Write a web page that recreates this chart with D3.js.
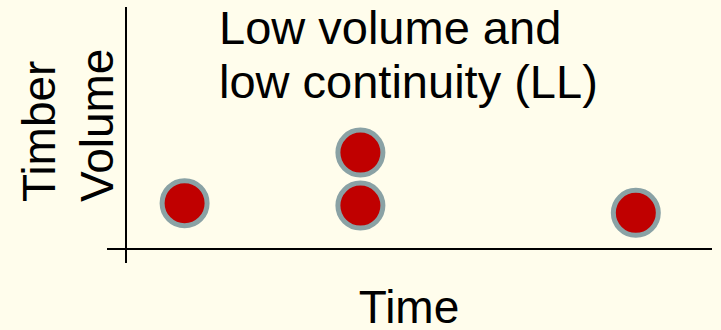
<!DOCTYPE html>
<html>
<head>
<meta charset="utf-8">
<script src="https://cdn.jsdelivr.net/npm/d3@7"></script>
<style>
    html, body {
        margin: 0;
        padding: 0;
        background: #fffdec;
    }
    svg text {
        font-family: "Liberation Sans", Arial, sans-serif;
        font-size: 46px;
        fill: #000;
    }
    svg text.title {
        font-size: 47px;
    }
    .dot {
        fill: #c00000;
        stroke: #8aa2a5;
        stroke-width: 5;
    }
    .axis-line {
        stroke: #000;
        stroke-width: 2;
    }
</style>
</head>
<body>
<svg id="chart" width="721" height="330"></svg>
<script>
    // point data (arbitrary 0-100 units)
    const time = [10, 40, 40, 87];
    const volume = [19, 40, 18, 15];
    const titleLines = ["Low volume and", "low continuity (LL)"];
    const yLabelLines = ["Timber", "Volume"];
    const xLabel = "Time";

    const width = 721, height = 330;
    const margin = {top: 8, right: 9, bottom: 81, left: 126};

    const svg = d3.select("#chart");

    const xScale = d3.scaleLinear()
        .domain([0, 100])
        .range([margin.left, width - margin.right]);
    const yScale = d3.scaleLinear()
        .domain([0, 100])
        .range([height - margin.bottom, margin.top]);

    // axes drawn as plain lines (no ticks in the original)
    svg.append("line").attr("class", "axis-line")
        .attr("x1", xScale(0)).attr("x2", xScale(0))
        .attr("y1", yScale(100) - 1).attr("y2", yScale(0) + 14);
    svg.append("line").attr("class", "axis-line")
        .attr("x1", xScale(0) - 19).attr("x2", xScale(100))
        .attr("y1", yScale(0)).attr("y2", yScale(0));

    // points
    const data = time.map((t, i) => ({t: t, v: volume[i]}));
    svg.selectAll(".dot").data(data)
        .enter().append("circle")
            .attr("class", "dot")
            .attr("cx", d => xScale(d.t))
            .attr("cy", d => yScale(d.v))
            .attr("r", 22.5);

    // title
    svg.selectAll(".title").data(titleLines)
        .enter().append("text")
            .attr("class", "title")
            .attr("x", 219)
            .attr("y", (d, i) => 44 + i * 54)
            .text(d => d);

    // y label, rotated
    svg.selectAll(".y-title").data(yLabelLines)
        .enter().append("text")
            .attr("class", "y-title")
            .attr("transform", (d, i) => "translate(" + (55 + i * 58) + ",202) rotate(-90)")
            .text(d => d);

    // x label
    svg.append("text")
        .attr("x", 409)
        .attr("y", 323)
        .attr("text-anchor", "middle")
        .text(xLabel);
</script>
</body>
</html>
